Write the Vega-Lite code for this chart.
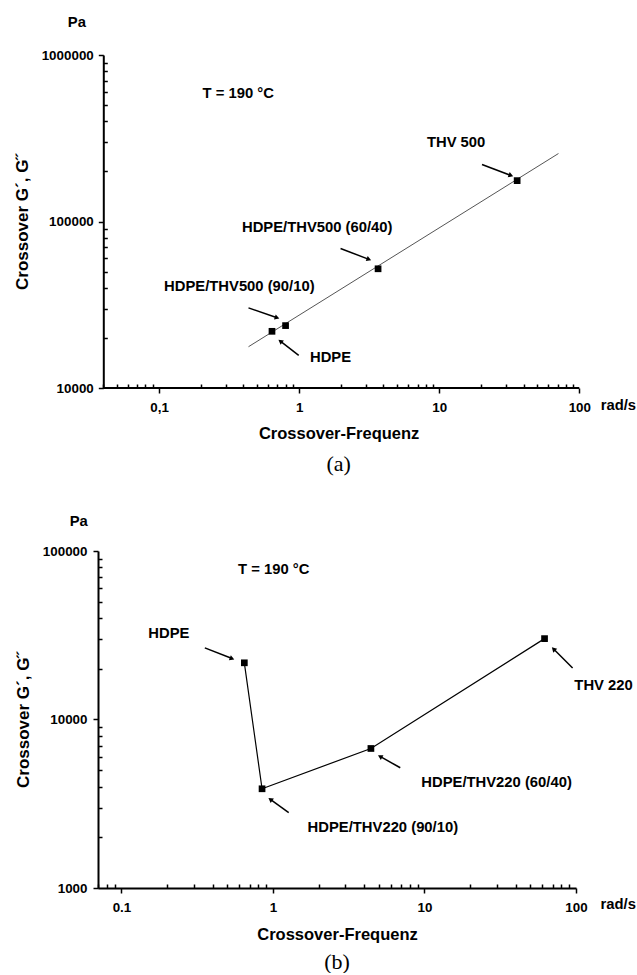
{
  "$schema": "https://vega.github.io/schema/vega-lite/v6.json",
  "padding": {"left": 13, "top": 14, "right": 0, "bottom": 0},
  "spacing": 39,
  "columns": 1,
  "config": {
    "view": {"stroke": null},
    "axis": {"grid": false, "domainColor": "black", "domainWidth": 2, "tickColor": "black", "tickWidth": 1.5,
      "labelFont": "Liberation Sans", "labelFontSize": 13.4, "labelFontWeight": "bold", "labelColor": "black",
      "titleFont": "Liberation Sans", "titleFontSize": 16.5, "titleFontWeight": "bold", "titleColor": "black",
      "labelFlush": false, "labelOverlap": false},
    "text": {"font": "Liberation Sans", "fontSize": 14.8, "fontWeight": "bold", "color": "black"}
  },
  "datasets": {
    "a_pts": [
      {"x": 0.64, "y": 21900, "name": "HDPE"},
      {"x": 0.80, "y": 23700, "name": "HDPE/THV500 (90/10)"},
      {"x": 3.66, "y": 52000, "name": "HDPE/THV500 (60/40)"},
      {"x": 36, "y": 176000, "name": "THV 500"}
    ],
    "a_fit": [
      {"x": 0.435, "y": 17700},
      {"x": 71, "y": 256000}
    ],
    "a_base": [
      {"x": 0.04, "x2": 100, "y": 10000}
    ],
    "a_arrows": [
      {"x": 0.435, "y": 30300, "x2": 0.696, "y2": 26400, "ang": 19},
      {"x": 0.993, "y": 15700, "x2": 0.734, "y2": 19100, "ang": 217},
      {"x": 1.975, "y": 68900, "x2": 3.15, "y2": 59200, "ang": 21},
      {"x": 20.2, "y": 220000, "x2": 32.5, "y2": 189000, "ang": 21}
    ],
    "a_labels": [
      {"x": 0.3677, "y": 583000, "text": "T = 190 °C"},
      {"x": 1.346, "y": 91600, "text": "HDPE/THV500 (60/40)"},
      {"x": 0.374, "y": 40300, "text": "HDPE/THV500 (90/10)"},
      {"x": 1.675, "y": 15150, "text": "HDPE"},
      {"x": 13.2, "y": 297000, "text": "THV 500"},
      {"x": 0.0259, "y": 1566000, "text": "Pa"},
      {"x": 190, "y": 7760, "text": "rad/s"}
    ],
    "b_pts": [
      {"x": 0.647, "y": 21700, "name": "HDPE", "o": 1},
      {"x": 0.847, "y": 3880, "name": "HDPE/THV220 (90/10)", "o": 2},
      {"x": 4.43, "y": 6730, "name": "HDPE/THV220 (60/40)", "o": 3},
      {"x": 62, "y": 30200, "name": "THV 220", "o": 4}
    ],
    "b_arrows": [
      {"x": 0.355, "y": 26600, "x2": 0.537, "y2": 23000, "ang": 21},
      {"x": 1.27, "y": 2800, "x2": 0.961, "y2": 3360, "ang": 216},
      {"x": 6.92, "y": 5170, "x2": 5.09, "y2": 6040, "ang": 209},
      {"x": 95, "y": 20200, "x2": 71.1, "y2": 26200, "ang": 225}
    ],
    "b_labels": [
      {"x": 1.012, "y": 76700, "text": "T = 190 °C"},
      {"x": 0.2056, "y": 32300, "text": "HDPE"},
      {"x": 5.31, "y": 2280, "text": "HDPE/THV220 (90/10)"},
      {"x": 29.9, "y": 4220, "text": "HDPE/THV220 (60/40)"},
      {"x": 152, "y": 15900, "text": "THV 220"},
      {"x": 0.0522, "y": 147700, "text": "Pa"},
      {"x": 190, "y": 793, "text": "rad/s"}
    ]
  },
  "concat": [
    {
      "width": 481.3,
      "height": 333,
      "title": {"text": "(a)", "orient": "bottom", "font": "Liberation Serif", "fontSize": 22, "fontWeight": "normal", "offset": 12, "anchor": "middle", "color": "black"},
      "encoding": {
        "x": {"field": "x", "type": "quantitative",
          "scale": {"type": "log", "domain": [0.03665, 100], "nice": false},
          "axis": {"title": "Crossover-Frequenz", "domain": false,
            "values": [0.04,0.05,0.06,0.07,0.08,0.09,0.1,0.2,0.3,0.4,0.5,0.6,0.7,0.8,0.9,1,2,3,4,5,6,7,8,9,10,20,30,40,50,60,70,80,90,100],
            "labelExpr": "datum.value == 0.1 ? '0,1' : datum.value == 1 ? '1' : datum.value == 10 ? '10' : datum.value == 100 ? '100' : ''",
            "tickSize": {"condition": {"test": "datum.value == 0.1 || datum.value == 1 || datum.value == 10 || datum.value == 100", "value": 5}, "value": -4},
            "labelPadding": 7, "titlePadding": 12}},
        "y": {"field": "y", "type": "quantitative",
          "scale": {"type": "log", "domain": [10000, 1000000], "nice": false},
          "axis": {"title": "Crossover G´, G˝", "offset": -5.3,
            "values": [10000,20000,30000,40000,50000,60000,70000,80000,90000,100000,200000,300000,400000,500000,600000,700000,800000,900000,1000000],
            "labelExpr": "datum.value == 10000 || datum.value == 100000 || datum.value == 1000000 ? format(datum.value, 'd') : ''",
            "tickSize": {"condition": {"test": "datum.value == 10000 || datum.value == 100000 || datum.value == 1000000", "value": 5}, "value": -4},
            "labelPadding": 5, "titlePadding": 10, "titleFontSize": 17}}
      },
      "layer": [
        {"data": {"name": "a_base"}, "mark": {"type": "rule", "color": "black", "strokeWidth": 2},
          "encoding": {"x2": {"field": "x2"}}},
        {"data": {"name": "a_fit"}, "mark": {"type": "line", "color": "#555555", "strokeWidth": 1}},
        {"data": {"name": "a_pts"}, "mark": {"type": "point", "shape": "square", "filled": true, "color": "black", "size": 45, "opacity": 1}},
        {"data": {"name": "a_arrows"}, "mark": {"type": "rule", "color": "black", "strokeWidth": 1.5},
          "encoding": {"x2": {"field": "x2"}, "y2": {"field": "y2"}}},
        {"data": {"name": "a_arrows"}, "mark": {"type": "point", "shape": "triangle-right", "filled": true, "color": "black", "size": 30, "opacity": 1},
          "encoding": {"x": {"field": "x2", "type": "quantitative"}, "y": {"field": "y2", "type": "quantitative"}, "angle": {"field": "ang", "type": "quantitative", "scale": null}}},
        {"data": {"name": "a_labels"}, "mark": {"type": "text", "align": "center", "baseline": "middle", "clip": false},
          "encoding": {"text": {"field": "text"}}}
      ]
    },
    {
      "width": 478,
      "height": 337,
      "title": {"text": "(b)", "orient": "bottom", "font": "Liberation Serif", "fontSize": 22, "fontWeight": "normal", "offset": 9, "anchor": "middle", "color": "black"},
      "encoding": {
        "x": {"field": "x", "type": "quantitative",
          "scale": {"type": "log", "domain": [0.07, 100], "nice": false},
          "axis": {"title": "Crossover-Frequenz",
            "values": [0.07,0.08,0.09,0.1,0.2,0.3,0.4,0.5,0.6,0.7,0.8,0.9,1,2,3,4,5,6,7,8,9,10,20,30,40,50,60,70,80,90,100],
            "labelExpr": "datum.value == 0.1 ? '0.1' : datum.value == 1 ? '1' : datum.value == 10 ? '10' : datum.value == 100 ? '100' : ''",
            "tickSize": {"condition": {"test": "datum.value == 0.1 || datum.value == 1 || datum.value == 10 || datum.value == 100", "value": 5}, "value": -4},
            "labelPadding": 7, "titlePadding": 13}},
        "y": {"field": "y", "type": "quantitative",
          "scale": {"type": "log", "domain": [1000, 100000], "nice": false},
          "axis": {"title": "Crossover G´, G˝",
            "values": [1000,2000,3000,4000,5000,6000,7000,8000,9000,10000,20000,30000,40000,50000,60000,70000,80000,90000,100000],
            "labelExpr": "datum.value == 1000 || datum.value == 10000 || datum.value == 100000 ? format(datum.value, 'd') : ''",
            "tickSize": {"condition": {"test": "datum.value == 1000 || datum.value == 10000 || datum.value == 100000", "value": 5}, "value": -4},
            "labelPadding": 6, "titlePadding": 10, "titleFontSize": 17}}
      },
      "layer": [
        {"data": {"name": "b_pts"}, "mark": {"type": "line", "color": "black", "strokeWidth": 1.2},
          "encoding": {"order": {"field": "o", "type": "quantitative"}}},
        {"data": {"name": "b_pts"}, "mark": {"type": "point", "shape": "square", "filled": true, "color": "black", "size": 45, "opacity": 1}},
        {"data": {"name": "b_arrows"}, "mark": {"type": "rule", "color": "black", "strokeWidth": 1.5},
          "encoding": {"x2": {"field": "x2"}, "y2": {"field": "y2"}}},
        {"data": {"name": "b_arrows"}, "mark": {"type": "point", "shape": "triangle-right", "filled": true, "color": "black", "size": 30, "opacity": 1},
          "encoding": {"x": {"field": "x2", "type": "quantitative"}, "y": {"field": "y2", "type": "quantitative"}, "angle": {"field": "ang", "type": "quantitative", "scale": null}}},
        {"data": {"name": "b_labels"}, "mark": {"type": "text", "align": "center", "baseline": "middle", "clip": false},
          "encoding": {"text": {"field": "text"}}}
      ]
    }
  ]
}
